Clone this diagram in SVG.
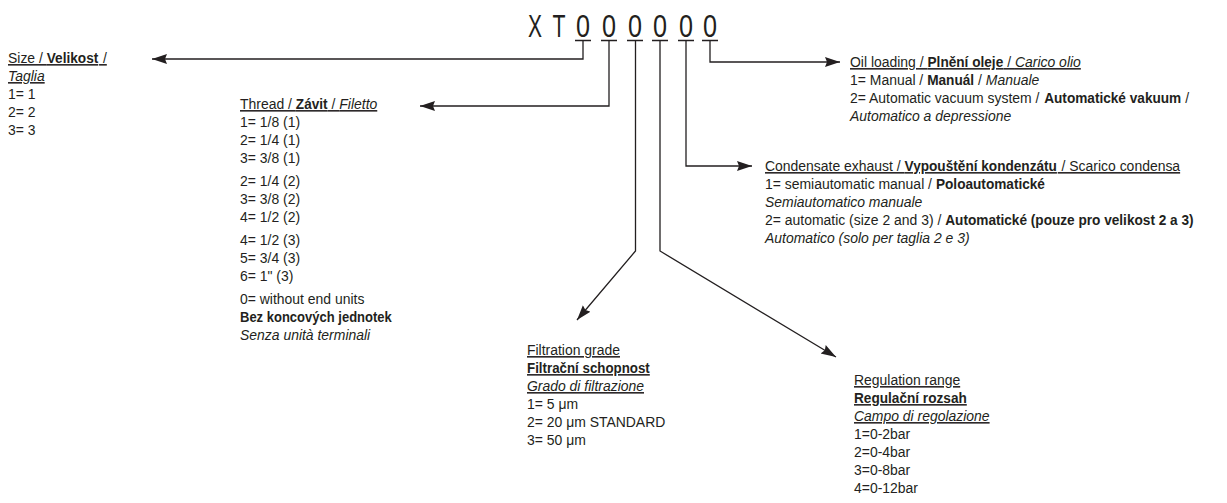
<svg xmlns="http://www.w3.org/2000/svg" width="1227" height="503" viewBox="0 0 1227 503">
<style>
text{font-family:"Liberation Sans",Arial,sans-serif;font-size:15.5px;fill:#231f20;white-space:pre}
.b{font-weight:bold}
.i{font-style:italic}
.u{text-decoration:underline}
.title{font-size:32px}
.ln{stroke:#231f20;stroke-width:1.3;fill:none}
.con{stroke:#231f20;stroke-width:1.3;fill:none;marker-end:url(#ah)}
</style>
<defs>
<marker id="ah" markerUnits="userSpaceOnUse" markerWidth="16" markerHeight="12" refX="15" refY="5" orient="auto">
<path d="M0,0 L15,5 L0,10 L2,5 z" fill="#231f20"/>
</marker>
</defs>
<g id="code">
<text class="title" x="535" y="37" text-anchor="middle" textLength="14" lengthAdjust="spacingAndGlyphs">X</text>
<text class="title" x="559" y="37" text-anchor="middle" textLength="13" lengthAdjust="spacingAndGlyphs">T</text>
<text class="title" x="583" y="37" text-anchor="middle" textLength="14" lengthAdjust="spacingAndGlyphs">0</text>
<text class="title" x="609" y="37" text-anchor="middle" textLength="14" lengthAdjust="spacingAndGlyphs">0</text>
<text class="title" x="635" y="37" text-anchor="middle" textLength="14" lengthAdjust="spacingAndGlyphs">0</text>
<text class="title" x="660" y="37" text-anchor="middle" textLength="14" lengthAdjust="spacingAndGlyphs">0</text>
<text class="title" x="686" y="37" text-anchor="middle" textLength="14" lengthAdjust="spacingAndGlyphs">0</text>
<text class="title" x="710" y="37" text-anchor="middle" textLength="14" lengthAdjust="spacingAndGlyphs">0</text>
<path class="ln" d="M575,40.5h16 M601,40.5h16 M627,40.5h16 M652,40.5h16 M678,40.5h16 M702,40.5h16"/>
</g>
<g id="connectors">
<path class="con" d="M583,41 V59 H152"/>
<path class="con" d="M609,41 V106 H420"/>
<path class="con" d="M635.5,41 V251 L577,320"/>
<path class="con" d="M660,41 V251 L836,357"/>
<path class="con" d="M686,41 V166 H752"/>
<path class="con" d="M710,41 V62 H840"/>
</g>
<g id="size">
<text transform="matrix(0.9,0,0,1,8,63)" class="u">Size / </text>
<text transform="matrix(0.88,0,0,1,46.77,63)" class="b u">Velikost</text>
<text transform="matrix(0.9,0,0,1,99.08,63)" class="u"> /</text>
<text transform="matrix(0.9,0,0,1,8,81)" class="i u">Taglia</text>
<text transform="matrix(0.9,0,0,1,8,99)">1= 1</text>
<text transform="matrix(0.9,0,0,1,8,117)">2= 2</text>
<text transform="matrix(0.9,0,0,1,8,135)">3= 3</text>
</g>
<g id="thread">
<text transform="matrix(0.9,0,0,1,240,109)" class="u">Thread / </text>
<text transform="matrix(0.88,0,0,1,295.83,109)" class="b u">Závit</text>
<text transform="matrix(0.9,0,0,1,327.67,109)" class="u"> / </text>
<text transform="matrix(0.9,0,0,1,339.3,109)" class="i u">Filetto</text>
<text transform="matrix(0.9,0,0,1,240,127)">1= 1/8 (1)</text>
<text transform="matrix(0.9,0,0,1,240,145)">2= 1/4 (1)</text>
<text transform="matrix(0.9,0,0,1,240,163)">3= 3/8 (1)</text>
<text transform="matrix(0.9,0,0,1,240,186)">2= 1/4 (2)</text>
<text transform="matrix(0.9,0,0,1,240,204)">3= 3/8 (2)</text>
<text transform="matrix(0.9,0,0,1,240,222)">4= 1/2 (2)</text>
<text transform="matrix(0.9,0,0,1,240,245)">4= 1/2 (3)</text>
<text transform="matrix(0.9,0,0,1,240,263)">5= 3/4 (3)</text>
<text transform="matrix(0.9,0,0,1,240,281)">6= 1" (3)</text>
<text transform="matrix(0.9,0,0,1,240,304)">0= without end units</text>
<text transform="matrix(0.84,0,0,1,240,322)" class="b">Bez koncových jednotek</text>
<text transform="matrix(0.9,0,0,1,240,340)" class="i">Senza unità terminali</text>
</g>
<g id="filtration">
<text transform="matrix(0.9,0,0,1,527,355)" class="u">Filtration grade</text>
<text transform="matrix(0.86,0,0,1,527,373)" class="b u">Filtrační schopnost</text>
<text transform="matrix(0.9,0,0,1,527,391)" class="i u">Grado di filtrazione</text>
<text transform="matrix(0.9,0,0,1,527,409)">1= 5 μm</text>
<text transform="matrix(0.9,0,0,1,527,427)">2= 20 μm STANDARD</text>
<text transform="matrix(0.9,0,0,1,527,445)">3= 50 μm</text>
</g>
<g id="regulation">
<text transform="matrix(0.9,0,0,1,854,385)" class="u">Regulation range</text>
<text transform="matrix(0.88,0,0,1,854,403)" class="b u">Regulační rozsah</text>
<text transform="matrix(0.9,0,0,1,854,421)" class="i u">Campo di regolazione</text>
<text transform="matrix(0.9,0,0,1,854,439)">1=0-2bar</text>
<text transform="matrix(0.9,0,0,1,854,457)">2=0-4bar</text>
<text transform="matrix(0.9,0,0,1,854,475)">3=0-8bar</text>
<text transform="matrix(0.9,0,0,1,854,493)">4=0-12bar</text>
</g>
<g id="condensate">
<text transform="matrix(0.9,0,0,1,765,171)" class="u">Condensate exhaust / </text>
<text transform="matrix(0.88,0,0,1,904.58,171)" class="b u">Vypouštění kondenzátu</text>
<text transform="matrix(0.9,0,0,1,1057.68,171)" class="u"> / Scarico condensa</text>
<text transform="matrix(0.9,0,0,1,765,189)">1= semiautomatic manual / </text>
<text transform="matrix(0.88,0,0,1,935.96,189)" class="b">Poloautomatické</text>
<text transform="matrix(0.9,0,0,1,765,207)" class="i">Semiautomatico manuale</text>
<text transform="matrix(0.9,0,0,1,765,225)">2= automatic (size 2 and 3) / </text>
<text transform="matrix(0.88,0,0,1,945.28,225)" class="b">Automatické (pouze pro velikost 2 a 3)</text>
<text transform="matrix(0.9,0,0,1,765,243)" class="i">Automatico (solo per taglia 2 e 3)</text>
</g>
<g id="oil">
<text transform="matrix(0.9,0,0,1,850,67)" class="u">Oil loading / </text>
<text transform="matrix(0.88,0,0,1,927.53,67)" class="b u">Plnění oleje</text>
<text transform="matrix(0.9,0,0,1,1003.34,67)" class="u"> / </text>
<text transform="matrix(0.9,0,0,1,1014.97,67)" class="i u">Carico olio</text>
<text transform="matrix(0.9,0,0,1,850,85)">1= Manual / </text>
<text transform="matrix(0.88,0,0,1,927.16,85)" class="b">Manuál</text>
<text transform="matrix(0.9,0,0,1,974.15,85)"> / </text>
<text transform="matrix(0.9,0,0,1,985.78,85)" class="i">Manuale</text>
<text transform="matrix(0.9,0,0,1,850,103)">2= Automatic vacuum system / </text>
<text transform="matrix(0.88,0,0,1,1044.21,103)" class="b">Automatické vakuum</text>
<text transform="matrix(0.9,0,0,1,1181.4,103)"> /</text>
<text transform="matrix(0.9,0,0,1,850,121)" class="i">Automatico a depressione</text>
</g>
</svg>
